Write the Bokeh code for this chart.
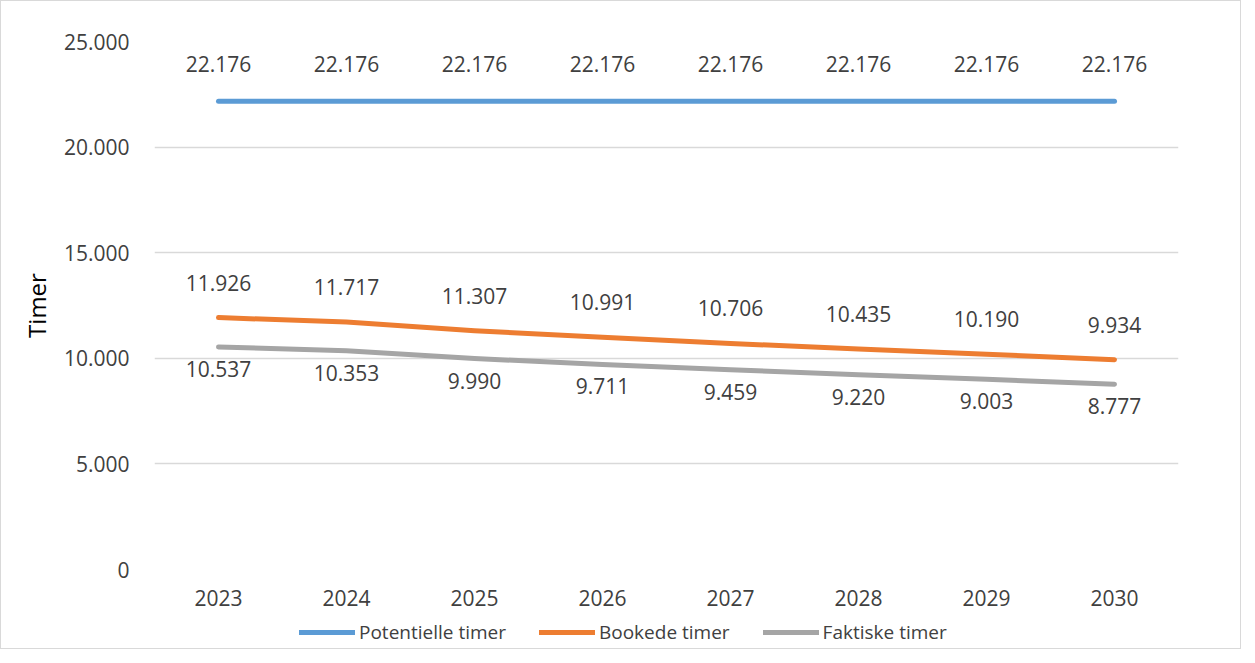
from bokeh.plotting import figure
from bokeh.layouts import column
from bokeh.models import (ColumnDataSource, FactorRange, Range1d, FixedTicker,
                          CustomJSTickFormatter, Legend, LegendItem)
from bokeh.core.properties import value
from bokeh.embed import file_html
from bokeh.resources import INLINE

years = ["2023", "2024", "2025", "2026", "2027", "2028", "2029", "2030"]
potentielle = [22176, 22176, 22176, 22176, 22176, 22176, 22176, 22176]
bookede = [11926, 11717, 11307, 10991, 10706, 10435, 10190, 9934]
faktiske = [10537, 10353, 9990, 9711, 9459, 9220, 9003, 8777]
series_names = ["Potentielle timer", "Bookede timer", "Faktiske timer"]
y_ticks = [0, 5000, 10000, 15000, 20000, 25000]

FONT = "Open Sans"
TXT = "#404040"
colors = ["#5B9BD5", "#ED7D31", "#A5A5A5"]


def fmt(v):
    return f"{v:,}".replace(",", ".")


p = figure(width=1239, height=618, x_range=FactorRange(*years, range_padding=0),
           y_range=Range1d(0, 25000), output_backend="svg", toolbar_location=None,
           min_border_left=153, min_border_right=62, min_border_top=40, min_border_bottom=50)
p.outline_line_color = None
p.xgrid.grid_line_color = None
p.ygrid.grid_line_color = "#d9d9d9"
p.ygrid.grid_line_width = 1.5

p.yaxis.ticker = FixedTicker(ticks=y_ticks)
p.yaxis.formatter = CustomJSTickFormatter(
    code="return tick.toString().replace(/\\B(?=(\\d{3})+(?!\\d))/g, '.');")
for ax in (p.xaxis[0], p.yaxis[0]):
    ax.axis_line_color = None
    ax.major_tick_line_color = None
    ax.minor_tick_line_color = None
    ax.major_tick_out = 0
    ax.major_label_text_font = FONT
    ax.major_label_text_font_size = "21px"
    ax.major_label_text_color = TXT
p.xaxis.major_label_standoff = 20
p.yaxis.major_label_standoff = 25
p.yaxis.axis_label = "Timer"
p.yaxis.axis_label_text_font = FONT
p.yaxis.axis_label_text_font_size = "24px"
p.yaxis.axis_label_text_font_style = "normal"
p.yaxis.axis_label_text_color = "#000000"
p.yaxis.axis_label_standoff = 8

# legend strip below the chart (its lines lie outside its visible range)
lg = figure(width=1239, height=29, x_range=FactorRange(*years, range_padding=0),
            y_range=Range1d(-2, -1), output_backend="svg", toolbar_location=None,
            x_axis_location=None, y_axis_location=None, min_border=0)
lg.grid.visible = False
lg.outline_line_color = None

items = []
offsets = [-37, -35, 22]
for name, vals, col, off in zip(series_names, [potentielle, bookede, faktiske], colors, offsets):
    src = ColumnDataSource(dict(x=years, y=vals, lab=[fmt(v) for v in vals]))
    p.line("x", "y", source=src, line_color=col, line_width=5, line_cap="round",
           line_join="round")
    p.text("x", "y", text="lab", source=src, text_align="center", text_baseline="middle",
           y_offset=off, text_font=value(FONT), text_font_size="21px", text_color=TXT)
    key = lg.line("x", "y", source=src, line_color=col, line_width=5, line_cap="round")
    items.append(LegendItem(label=name, renderers=[key]))

legend = Legend(items=items, orientation="horizontal", location=(145, 3),
                padding=0, margin=0, spacing=33, glyph_width=56, glyph_height=20,
                label_height=20, label_standoff=4, border_line_color=None,
                background_fill_alpha=0, label_text_font=FONT,
                label_text_font_size="19px", label_text_color=TXT)
lg.add_layout(legend, "center")

layout = column(p, lg, spacing=0)
layout.styles = {"border": "1px solid #d9d9d9", "box-sizing": "border-box"}

open("out.html", "w").write(file_html(layout, INLINE))
